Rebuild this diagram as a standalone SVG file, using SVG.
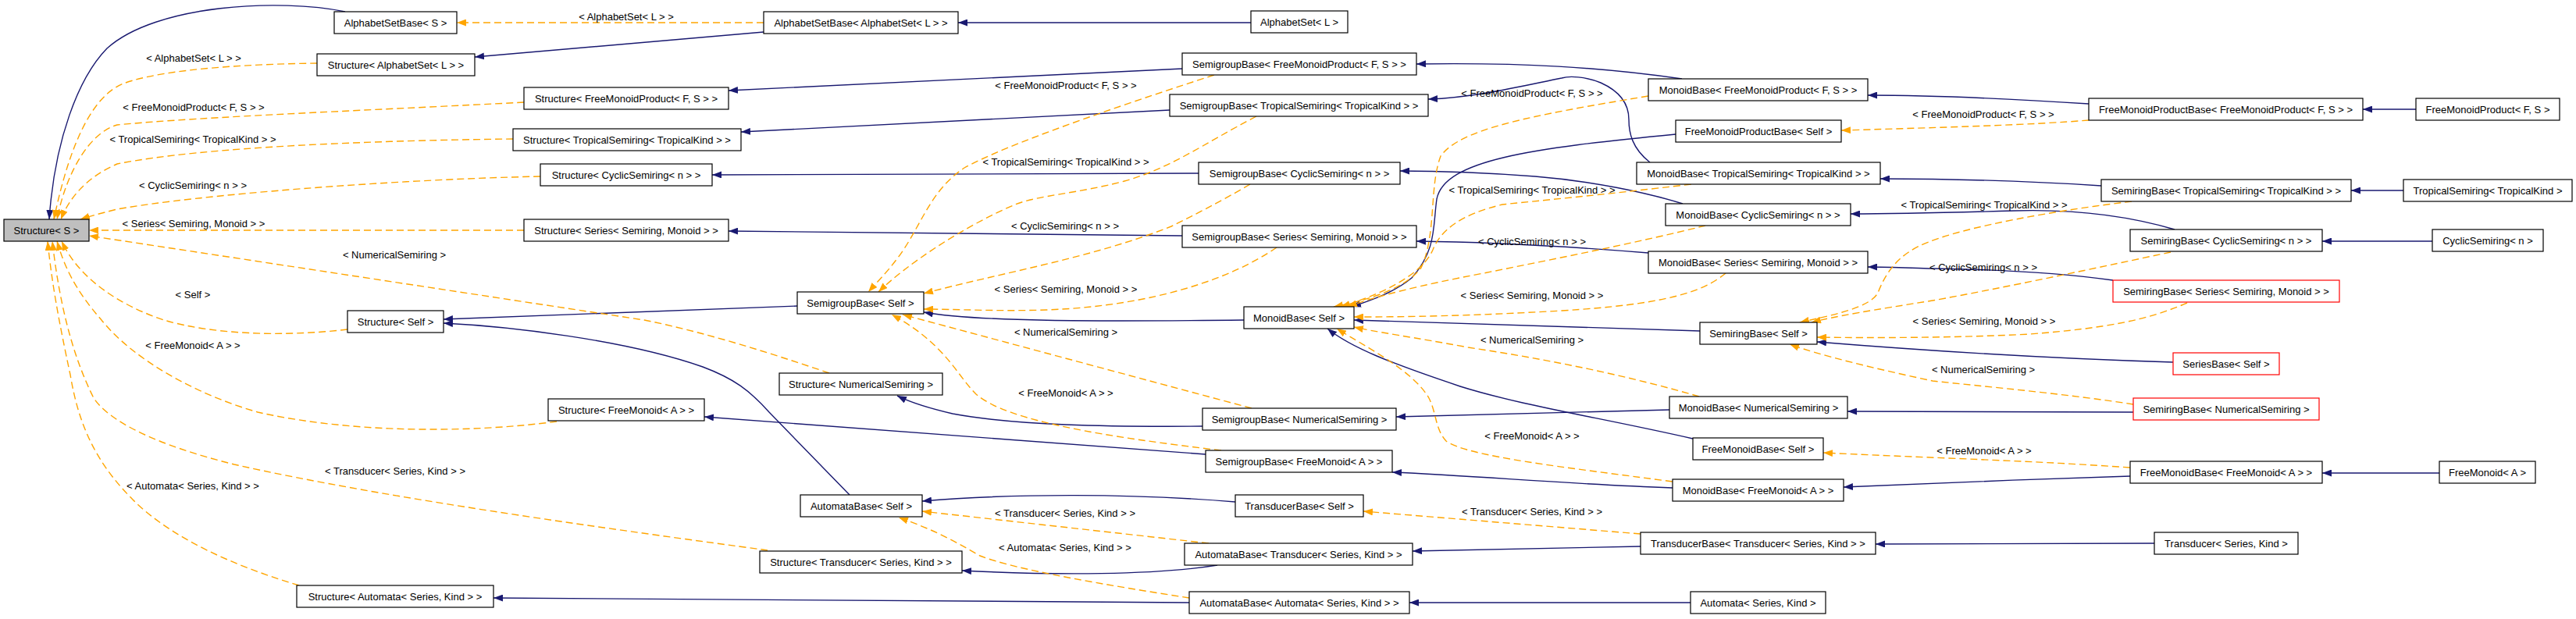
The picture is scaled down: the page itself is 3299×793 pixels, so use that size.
<svg xmlns="http://www.w3.org/2000/svg" width="3299" height="793" viewBox="0 0 3299 793">
<style>
.n rect{fill:#fff;stroke:#000;stroke-width:1.2}
.n.r rect{stroke:#ff0000}
.n.g rect{fill:#bfbfbf}
text{font-family:"Liberation Sans",Arial,sans-serif;font-size:13px;text-anchor:middle;fill:#000}
.e{fill:none;stroke:#191970;stroke-width:1.4;marker-end:url(#ab)}
.t{fill:none;stroke:#ffa500;stroke-width:1.4;stroke-dasharray:9,5;marker-end:url(#ao)}
</style>
<defs>
<marker id="ab" viewBox="0 0 12 9" refX="12" refY="4.5" markerWidth="12" markerHeight="9" markerUnits="userSpaceOnUse" orient="auto"><path d="M0,0 L12,4.5 L0,9 z" fill="#191970"/></marker>
<marker id="ao" viewBox="0 0 12 9" refX="12" refY="4.5" markerWidth="12" markerHeight="9" markerUnits="userSpaceOnUse" orient="auto"><path d="M0,0 L12,4.5 L0,9 z" fill="#ffa500"/></marker>
</defs>
<rect width="3299" height="793" fill="#fff"/>
<g id="connectors">
<path class="e" d="M442,15 C360,-2 200,5 137,62 C100,100 70,180 63,281"/>
<path class="e" d="M978,41 L608,73"/>
<path class="e" d="M1602,29 L1227,29"/>
<path class="e" d="M1514,88 L933,116"/>
<path class="e" d="M1498,141 L949,169"/>
<path class="e" d="M1535,222 L912,224"/>
<path class="e" d="M1514,302 L933,296"/>
<path class="e" d="M2154,101 C2050,86 1950,80 1814,82"/>
<path class="e" d="M2113,208 C2090,190 2086,170 2086,153 C2086,130 2070,115 2050,106 C2030,98 2010,97 2000,100 C1950,110 1890,125 1829,127"/>
<path class="e" d="M2146,172 C1960,190 1850,205 1840,255 C1835,290 1840,320 1808,356 C1785,375 1755,385 1731,393"/>
<path class="e" d="M2155,261 C2110,247 2040,232 1966,226 C1900,221 1850,219 1793,219"/>
<path class="e" d="M2111,324 C2000,315 1900,310 1814,309"/>
<path class="e" d="M1593,410 C1400,412 1250,412 1183,400"/>
<path class="e" d="M1021,392 L568,409"/>
<path class="e" d="M1088,634 L985,528 C960,500 940,485 900,470 C800,435 650,418 568,414"/>
<path class="e" d="M2177,424 L1734,410"/>
<path class="e" d="M2138,525 L1788,534"/>
<path class="e" d="M1540,546 C1420,547 1300,545 1220,530 C1190,523 1165,515 1149,507"/>
<path class="e" d="M2168,562 C2050,535 1950,520 1870,495 C1780,465 1730,445 1700,421"/>
<path class="e" d="M2142,625 C2000,620 1900,610 1783,605"/>
<path class="e" d="M1544,582 L902,534"/>
<path class="e" d="M1582,643 C1450,632 1300,632 1181,642"/>
<path class="e" d="M1559,724 C1480,737 1350,737 1232,731"/>
<path class="e" d="M1523,772 L632,766"/>
<path class="e" d="M2101,700 L1809,706"/>
<path class="e" d="M2165,772 L1805,772"/>
<path class="e" d="M2675,133 C2550,125 2470,122 2392,122"/>
<path class="e" d="M3094,140 L3026,140"/>
<path class="e" d="M2691,238 C2600,232 2500,229 2408,229"/>
<path class="e" d="M3078,244 L3011,244"/>
<path class="e" d="M2785,294 C2720,275 2650,268 2580,270 C2510,272 2440,274 2370,274"/>
<path class="e" d="M3115,309 L2974,309"/>
<path class="e" d="M2706,359 C2640,350 2550,345 2475,344 C2440,343 2420,342 2392,342"/>
<path class="e" d="M2783,464 C2650,460 2500,452 2327,438"/>
<path class="e" d="M2732,528 L2366,527"/>
<path class="e" d="M2728,610 C2600,614 2500,618 2361,624"/>
<path class="e" d="M3124,606 L2974,606"/>
<path class="e" d="M2759,696 L2402,697"/>

<path class="t" d="M406,81 C320,82 210,88 158,107 C120,122 90,180 69,281"/>
<path class="t" d="M671,131 C500,140 250,150 150,160 C115,170 85,220 73,281"/>
<path class="t" d="M657,178 C480,180 260,188 150,210 C115,225 90,250 78,281"/>
<path class="t" d="M692,226 C500,230 250,250 150,268 C130,273 115,277 103,281"/>
<path class="t" d="M671,295 L114,295"/>
<path class="t" d="M1062,478 C980,450 900,425 825,410 L114,302"/>
<path class="t" d="M445,422 C360,432 270,428 210,410 C150,390 100,355 79,309"/>
<path class="t" d="M713,540 C600,555 450,555 330,528 C250,505 170,460 130,410 C95,370 82,340 73,309"/>
<path class="t" d="M983,705 C800,680 500,640 300,595 C200,570 140,540 120,510 C90,450 75,380 67,309"/>
<path class="t" d="M383,750 C300,725 220,690 170,640 C120,590 100,540 90,480 C75,410 66,360 61,309"/>
<path class="t" d="M978,29 L585,29"/>
<path class="t" d="M1555,96 C1420,140 1290,185 1235,215 C1190,245 1180,290 1150,330 C1135,350 1120,365 1112,374"/>
<path class="t" d="M1609,149 C1540,185 1500,215 1440,232 C1380,248 1330,250 1300,262 C1230,292 1160,340 1125,374"/>
<path class="t" d="M1601,236 C1560,260 1530,275 1500,290 C1400,330 1280,350 1183,376"/>
<path class="t" d="M1635,317 C1580,355 1480,392 1340,397 C1280,399 1220,396 1183,396"/>
<path class="t" d="M1603,523 L1156,403"/>
<path class="t" d="M1564,577 C1420,560 1290,540 1250,505 C1225,480 1210,440 1142,403"/>
<path class="t" d="M2111,123 C1960,148 1870,165 1845,200 C1830,240 1840,300 1820,343 C1800,370 1750,385 1708,393"/>
<path class="t" d="M2166,236 C2050,250 1960,258 1924,262 C1870,275 1845,295 1835,320 C1820,355 1760,380 1717,393"/>
<path class="t" d="M2184,289 C2100,310 2000,330 1900,350 C1820,365 1760,380 1726,393"/>
<path class="t" d="M2210,350 C2180,375 2130,390 2000,398 C1880,405 1800,406 1734,406"/>
<path class="t" d="M2176,508 C2080,480 1980,460 1880,445 C1810,432 1760,425 1734,419"/>
<path class="t" d="M2142,617 C2000,598 1880,585 1852,565 C1838,550 1840,530 1830,510 C1810,475 1750,445 1712,421"/>
<path class="t" d="M2730,258 C2630,270 2520,290 2470,310 C2430,325 2415,350 2405,375 C2395,395 2340,405 2305,413"/>
<path class="t" d="M2780,323 C2700,340 2560,370 2475,385 C2400,397 2350,405 2320,413"/>
<path class="t" d="M2801,388 C2750,410 2700,420 2600,428 C2500,433 2400,433 2327,432"/>
<path class="t" d="M2732,518 C2650,505 2540,495 2475,488 C2400,472 2330,455 2292,441"/>
<path class="t" d="M2675,154 C2600,160 2500,163 2358,167"/>
<path class="t" d="M2728,599 C2600,590 2480,587 2335,580"/>
<path class="t" d="M2101,684 L1746,655"/>
<path class="t" d="M1548,696 L1181,655"/>
<path class="t" d="M1523,766 C1420,750 1300,730 1255,712 C1225,695 1200,680 1151,663"/>
</g>
<g id="labels">
<text x="248" y="79">&lt; AlphabetSet&lt; L &gt; &gt;</text>
<text x="248" y="142">&lt; FreeMonoidProduct&lt; F, S &gt; &gt;</text>
<text x="247" y="183">&lt; TropicalSemiring&lt; TropicalKind &gt; &gt;</text>
<text x="247" y="242">&lt; CyclicSemiring&lt; n &gt; &gt;</text>
<text x="248" y="291">&lt; Series&lt; Semiring, Monoid &gt; &gt;</text>
<text x="505" y="331">&lt; NumericalSemiring &gt;</text>
<text x="247" y="382">&lt; Self &gt;</text>
<text x="247" y="447">&lt; FreeMonoid&lt; A &gt; &gt;</text>
<text x="506" y="608">&lt; Transducer&lt; Series, Kind &gt; &gt;</text>
<text x="247" y="627">&lt; Automata&lt; Series, Kind &gt; &gt;</text>
<text x="802" y="26">&lt; AlphabetSet&lt; L &gt; &gt;</text>
<text x="1365" y="114">&lt; FreeMonoidProduct&lt; F, S &gt; &gt;</text>
<text x="1365" y="212">&lt; TropicalSemiring&lt; TropicalKind &gt; &gt;</text>
<text x="1364" y="294">&lt; CyclicSemiring&lt; n &gt; &gt;</text>
<text x="1365" y="375">&lt; Series&lt; Semiring, Monoid &gt; &gt;</text>
<text x="1365" y="430">&lt; NumericalSemiring &gt;</text>
<text x="1365" y="508">&lt; FreeMonoid&lt; A &gt; &gt;</text>
<text x="1364" y="662">&lt; Transducer&lt; Series, Kind &gt; &gt;</text>
<text x="1364" y="706">&lt; Automata&lt; Series, Kind &gt; &gt;</text>
<text x="1962" y="124">&lt; FreeMonoidProduct&lt; F, S &gt; &gt;</text>
<text x="1962" y="248">&lt; TropicalSemiring&lt; TropicalKind &gt; &gt;</text>
<text x="1962" y="314">&lt; CyclicSemiring&lt; n &gt; &gt;</text>
<text x="1962" y="383">&lt; Series&lt; Semiring, Monoid &gt; &gt;</text>
<text x="1962" y="440">&lt; NumericalSemiring &gt;</text>
<text x="1962" y="563">&lt; FreeMonoid&lt; A &gt; &gt;</text>
<text x="1962" y="660">&lt; Transducer&lt; Series, Kind &gt; &gt;</text>
<text x="2540" y="151">&lt; FreeMonoidProduct&lt; F, S &gt; &gt;</text>
<text x="2541" y="267">&lt; TropicalSemiring&lt; TropicalKind &gt; &gt;</text>
<text x="2540" y="347">&lt; CyclicSemiring&lt; n &gt; &gt;</text>
<text x="2541" y="416">&lt; Series&lt; Semiring, Monoid &gt; &gt;</text>
<text x="2540" y="478">&lt; NumericalSemiring &gt;</text>
<text x="2541" y="582">&lt; FreeMonoid&lt; A &gt; &gt;</text>
</g>
<g id="n1" class="n g"><rect x="5" y="281" width="109" height="28"/><text x="59.5" y="300">Structure&lt; S &gt;</text></g>
<g id="n2" class="n"><rect x="428" y="15" width="157" height="28"/><text x="506.5" y="34">AlphabetSetBase&lt; S &gt;</text></g>
<g id="n3" class="n"><rect x="406" y="69" width="202" height="28"/><text x="507" y="88">Structure&lt; AlphabetSet&lt; L &gt; &gt;</text></g>
<g id="n4" class="n"><rect x="671" y="112" width="262" height="28"/><text x="802" y="131">Structure&lt; FreeMonoidProduct&lt; F, S &gt; &gt;</text></g>
<g id="n5" class="n"><rect x="657" y="165" width="292" height="28"/><text x="803" y="184">Structure&lt; TropicalSemiring&lt; TropicalKind &gt; &gt;</text></g>
<g id="n6" class="n"><rect x="692" y="210" width="220" height="28"/><text x="802" y="229">Structure&lt; CyclicSemiring&lt; n &gt; &gt;</text></g>
<g id="n7" class="n"><rect x="671" y="281" width="262" height="28"/><text x="802" y="300">Structure&lt; Series&lt; Semiring, Monoid &gt; &gt;</text></g>
<g id="n8" class="n"><rect x="445" y="398" width="123" height="28"/><text x="506.5" y="417">Structure&lt; Self &gt;</text></g>
<g id="n9" class="n"><rect x="702" y="511" width="200" height="28"/><text x="802" y="530">Structure&lt; FreeMonoid&lt; A &gt; &gt;</text></g>
<g id="n10" class="n"><rect x="380" y="750" width="252" height="28"/><text x="506" y="769">Structure&lt; Automata&lt; Series, Kind &gt; &gt;</text></g>
<g id="n11" class="n"><rect x="978" y="15" width="249" height="28"/><text x="1102.5" y="34">AlphabetSetBase&lt; AlphabetSet&lt; L &gt; &gt;</text></g>
<g id="n12" class="n"><rect x="1021" y="374" width="162" height="28"/><text x="1102" y="393">SemigroupBase&lt; Self &gt;</text></g>
<g id="n13" class="n"><rect x="998" y="478" width="209" height="28"/><text x="1102.5" y="497">Structure&lt; NumericalSemiring &gt;</text></g>
<g id="n14" class="n"><rect x="1025" y="634" width="156" height="28"/><text x="1103" y="653">AutomataBase&lt; Self &gt;</text></g>
<g id="n15" class="n"><rect x="973" y="706" width="259" height="28"/><text x="1102.5" y="725">Structure&lt; Transducer&lt; Series, Kind &gt; &gt;</text></g>
<g id="n16" class="n"><rect x="1602" y="14" width="124" height="28"/><text x="1664" y="33">AlphabetSet&lt; L &gt;</text></g>
<g id="n17" class="n"><rect x="1514" y="68" width="300" height="28"/><text x="1664" y="87">SemigroupBase&lt; FreeMonoidProduct&lt; F, S &gt; &gt;</text></g>
<g id="n18" class="n"><rect x="1498" y="121" width="331" height="28"/><text x="1663.5" y="140">SemigroupBase&lt; TropicalSemiring&lt; TropicalKind &gt; &gt;</text></g>
<g id="n19" class="n"><rect x="1535" y="208" width="258" height="28"/><text x="1664" y="227">SemigroupBase&lt; CyclicSemiring&lt; n &gt; &gt;</text></g>
<g id="n20" class="n"><rect x="1514" y="289" width="300" height="28"/><text x="1664" y="308">SemigroupBase&lt; Series&lt; Semiring, Monoid &gt; &gt;</text></g>
<g id="n21" class="n"><rect x="1593" y="393" width="141" height="28"/><text x="1663.5" y="412">MonoidBase&lt; Self &gt;</text></g>
<g id="n22" class="n"><rect x="1540" y="523" width="248" height="28"/><text x="1664" y="542">SemigroupBase&lt; NumericalSemiring &gt;</text></g>
<g id="n23" class="n"><rect x="1544" y="577" width="239" height="28"/><text x="1663.5" y="596">SemigroupBase&lt; FreeMonoid&lt; A &gt; &gt;</text></g>
<g id="n24" class="n"><rect x="1582" y="634" width="164" height="28"/><text x="1664" y="653">TransducerBase&lt; Self &gt;</text></g>
<g id="n25" class="n"><rect x="1517" y="696" width="292" height="28"/><text x="1663" y="715">AutomataBase&lt; Transducer&lt; Series, Kind &gt; &gt;</text></g>
<g id="n26" class="n"><rect x="1523" y="758" width="282" height="28"/><text x="1664" y="777">AutomataBase&lt; Automata&lt; Series, Kind &gt; &gt;</text></g>
<g id="n27" class="n"><rect x="2111" y="101" width="281" height="28"/><text x="2251.5" y="120">MonoidBase&lt; FreeMonoidProduct&lt; F, S &gt; &gt;</text></g>
<g id="n28" class="n"><rect x="2146" y="154" width="212" height="28"/><text x="2252" y="173">FreeMonoidProductBase&lt; Self &gt;</text></g>
<g id="n29" class="n"><rect x="2096" y="208" width="312" height="28"/><text x="2252" y="227">MonoidBase&lt; TropicalSemiring&lt; TropicalKind &gt; &gt;</text></g>
<g id="n30" class="n"><rect x="2133" y="261" width="237" height="28"/><text x="2251.5" y="280">MonoidBase&lt; CyclicSemiring&lt; n &gt; &gt;</text></g>
<g id="n31" class="n"><rect x="2111" y="322" width="281" height="28"/><text x="2251.5" y="341">MonoidBase&lt; Series&lt; Semiring, Monoid &gt; &gt;</text></g>
<g id="n32" class="n"><rect x="2177" y="413" width="150" height="28"/><text x="2252" y="432">SemiringBase&lt; Self &gt;</text></g>
<g id="n33" class="n"><rect x="2138" y="508" width="228" height="28"/><text x="2252" y="527">MonoidBase&lt; NumericalSemiring &gt;</text></g>
<g id="n34" class="n"><rect x="2168" y="561" width="167" height="28"/><text x="2251.5" y="580">FreeMonoidBase&lt; Self &gt;</text></g>
<g id="n35" class="n"><rect x="2142" y="614" width="219" height="28"/><text x="2251.5" y="633">MonoidBase&lt; FreeMonoid&lt; A &gt; &gt;</text></g>
<g id="n36" class="n"><rect x="2101" y="682" width="301" height="28"/><text x="2251.5" y="701">TransducerBase&lt; Transducer&lt; Series, Kind &gt; &gt;</text></g>
<g id="n37" class="n"><rect x="2165" y="758" width="173" height="28"/><text x="2251.5" y="777">Automata&lt; Series, Kind &gt;</text></g>
<g id="n38" class="n"><rect x="2675" y="126" width="351" height="28"/><text x="2850.5" y="145">FreeMonoidProductBase&lt; FreeMonoidProduct&lt; F, S &gt; &gt;</text></g>
<g id="n39" class="n"><rect x="2691" y="230" width="320" height="28"/><text x="2851" y="249">SemiringBase&lt; TropicalSemiring&lt; TropicalKind &gt; &gt;</text></g>
<g id="n40" class="n"><rect x="2728" y="294" width="246" height="28"/><text x="2851" y="313">SemiringBase&lt; CyclicSemiring&lt; n &gt; &gt;</text></g>
<g id="n41" class="n r"><rect x="2706" y="359" width="290" height="28"/><text x="2851" y="378">SemiringBase&lt; Series&lt; Semiring, Monoid &gt; &gt;</text></g>
<g id="n42" class="n r"><rect x="2783" y="452" width="136" height="28"/><text x="2851" y="471">SeriesBase&lt; Self &gt;</text></g>
<g id="n43" class="n r"><rect x="2732" y="510" width="238" height="28"/><text x="2851" y="529">SemiringBase&lt; NumericalSemiring &gt;</text></g>
<g id="n44" class="n"><rect x="2728" y="591" width="246" height="28"/><text x="2851" y="610">FreeMonoidBase&lt; FreeMonoid&lt; A &gt; &gt;</text></g>
<g id="n45" class="n"><rect x="2759" y="682" width="184" height="28"/><text x="2851" y="701">Transducer&lt; Series, Kind &gt;</text></g>
<g id="n46" class="n"><rect x="3094" y="126" width="184" height="28"/><text x="3186" y="145">FreeMonoidProduct&lt; F, S &gt;</text></g>
<g id="n47" class="n"><rect x="3078" y="230" width="216" height="28"/><text x="3186" y="249">TropicalSemiring&lt; TropicalKind &gt;</text></g>
<g id="n48" class="n"><rect x="3115" y="294" width="142" height="28"/><text x="3186" y="313">CyclicSemiring&lt; n &gt;</text></g>
<g id="n49" class="n"><rect x="3124" y="591" width="123" height="28"/><text x="3185.5" y="610">FreeMonoid&lt; A &gt;</text></g>
</svg>
